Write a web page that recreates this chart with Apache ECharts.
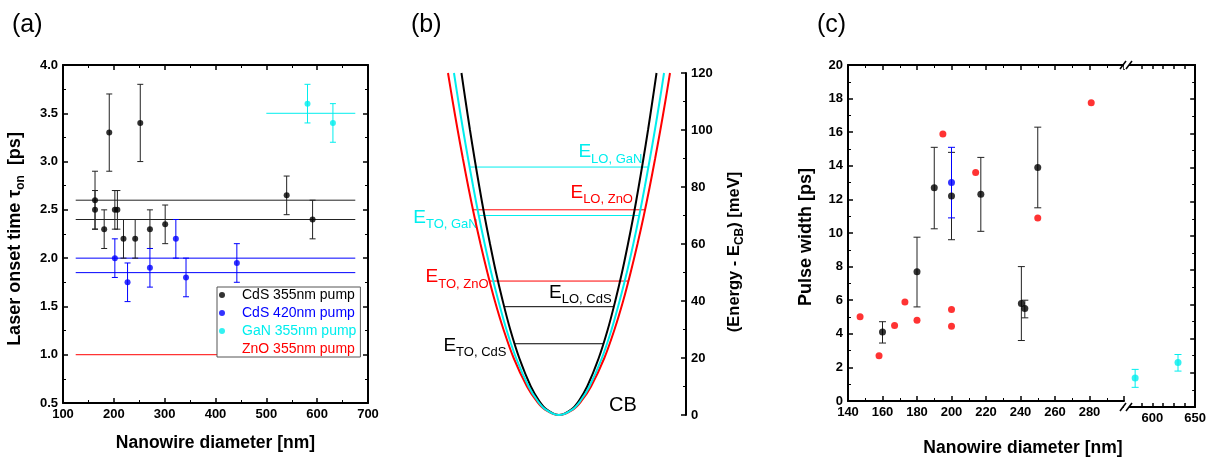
<!DOCTYPE html>
<html>
<head>
<meta charset="utf-8">
<script src="https://cdn.jsdelivr.net/npm/echarts@6/dist/echarts.min.js"></script>
<style>
  html, body { margin: 0; padding: 0; background: #fff; }
  #chart { width: 1209px; height: 457px; }
</style>
</head>
<body>
<div id="chart"></div>
<script>
/// (a) laser onset time vs nanowire diameter: [diameter nm, tau ps, err low, err high]
const onsetCdS355 = [
    [163, 2.6, 2.3, 2.9], [163, 2.5, 2.3, 2.7], [181, 2.3, 2.1, 2.5], [191, 3.3, 2.9, 3.7],
    [202, 2.5, 2.3, 2.7], [207, 2.5, 2.3, 2.7], [219, 2.2, 2.0, 2.4], [242, 2.2, 2.0, 2.4],
    [252, 3.4, 3.0, 3.8], [271, 2.3, 2.1, 2.5], [301, 2.35, 2.15, 2.55], [540, 2.65, 2.45, 2.85],
    [591, 2.4, 2.2, 2.6]
];
const onsetCdS420 = [
    [202, 2.0, 1.8, 2.2], [227, 1.75, 1.55, 1.95], [271, 1.9, 1.7, 2.1],
    [322, 2.2, 2.0, 2.4], [342, 1.8, 1.6, 2.0], [442, 1.95, 1.75, 2.15]
];
const onsetGaN355 = [[581, 3.6, 3.4, 3.8], [631, 3.4, 3.2, 3.6]];
const cds355Levels = [2.6, 2.4];
const cds420Levels = [2.0, 1.85];
const ganLevel = 3.5;
const znoLevel = 1.0;
const levelSpan = [125, 675];
const ganSpan = [500, 675];

/// (b) conduction band parabolas: energy [meV] vs half width k (arb.)
const bandE = [0, 2, 5, 10, 20, 30, 40, 50, 60, 70, 80, 90, 100, 110, 120];
const bandK_CdS = [0, 0.099, 0.157, 0.222, 0.313, 0.384, 0.443, 0.496, 0.543, 0.587, 0.627, 0.665, 0.701, 0.735, 0.768];
const bandK_GaN = [0, 0.107, 0.169, 0.239, 0.338, 0.414, 0.477, 0.534, 0.585, 0.632, 0.675, 0.716, 0.755, 0.792, 0.827];
const bandK_ZnO = [0, 0.113, 0.178, 0.252, 0.357, 0.437, 0.505, 0.564, 0.618, 0.668, 0.714, 0.757, 0.798, 0.837, 0.874];
const phononNames = ['LO, GaN', 'LO, ZnO', 'TO, GaN', 'TO, ZnO', 'LO, CdS', 'TO, CdS'];
const phononMat = ['GaN', 'ZnO', 'GaN', 'ZnO', 'CdS', 'CdS'];
const phononE = [87, 72, 70, 47, 38, 25];
const phononK = [0.704, 0.677, 0.632, 0.547, 0.43, 0.351];

/// (c) pulse width vs nanowire diameter
const pulseCdS355 = [
    [160, 4.1, 3.45, 4.72], [180, 7.7, 5.6, 9.75], [190, 12.7, 10.25, 15.1], [200, 12.2, 9.6, 14.8],
    [217, 12.3, 10.1, 14.5], [250, 13.9, 11.5, 16.3], [240.5, 5.8, 3.6, 8.0], [242.5, 5.5, 4.95, 6.0]
];
const pulseCdS420 = [[200, 13.0, 10.9, 15.1]];
const pulseZnO = [
    [147, 5.02], [158, 2.7], [167, 4.5], [173, 5.9], [180, 4.8], [200, 5.45],
    [200, 4.45], [195, 15.9], [214, 13.6], [250, 10.9], [281, 17.75]
];
const pulseGaN = [[580, 1.7, 1.15, 2.2], [630, 2.6, 2.1, 3.07]];
const c2Labels = [600, 650];
const c2Ticks = [587.5, 600, 612.5, 625, 637.5, 650];

const FONT = 'Liberation Sans, Arial, sans-serif';
const C_BLACK = '#000000', C_BLUE = '#0000ff', C_CYAN = '#00eeee', C_RED = '#ff0000';
const matColor = { CdS: C_BLACK, GaN: C_CYAN, ZnO: C_RED };

// label placement for phonon levels (which end, distance, vertical shift)
const phononPlace = [
    { end: 1, dist: 6, dy: -13 },
    { end: 1, dist: 12, dy: -15 },
    { end: 0, dist: 1, dy: 4 },
    { end: 0, dist: 1, dy: -2 },
    { end: 1, dist: 2, dy: -12 },
    { end: 0, dist: 8, dy: 4 }
];

function frameAxis(o) {
    return Object.assign({
        type: 'value',
        axisLine: { show: true, onZero: false, lineStyle: { color: '#000', width: 2 } },
        axisTick: { show: true, inside: true, length: 5, lineStyle: { color: '#000', width: 1.5 } },
        minorTick: { show: true, splitNumber: 2, length: 3, lineStyle: { color: '#000', width: 1 } },
        splitLine: { show: false },
        axisLabel: { show: o.labels !== false, color: '#000', fontFamily: FONT, fontWeight: 'bold', fontSize: 13, margin: 5 }
    }, o);
}

function errorBars(data, color, xi, yi, cap) {
    return {
        type: 'custom', xAxisIndex: xi, yAxisIndex: yi, data: data, z: 3, silent: true,
        encode: { x: 0, y: [2, 3] },
        renderItem: function (params, api) {
            const x = api.value(0);
            const hi = api.coord([x, api.value(3)]);
            const lo = api.coord([x, api.value(2)]);
            const st = { stroke: color, lineWidth: 1 };
            return {
                type: 'group', children: [
                    { type: 'line', shape: { x1: hi[0], y1: hi[1], x2: lo[0], y2: lo[1] }, style: st },
                    { type: 'line', shape: { x1: hi[0] - cap, y1: hi[1], x2: hi[0] + cap, y2: hi[1] }, style: st },
                    { type: 'line', shape: { x1: lo[0] - cap, y1: lo[1], x2: lo[0] + cap, y2: lo[1] }, style: st }
                ]
            };
        }
    };
}

function dots(name, data, color, xi, yi, size) {
    return {
        type: 'scatter', name: name, xAxisIndex: xi, yAxisIndex: yi, z: 4, silent: true,
        symbol: 'circle', symbolSize: size, itemStyle: { color: color },
        encode: { x: 0, y: 1 }, data: data
    };
}

function hline(name, y, span, color, width) {
    return {
        type: 'line', name: name, xAxisIndex: 0, yAxisIndex: 0, symbol: 'none', silent: true, z: 2,
        lineStyle: { color: color, width: width },
        data: [[span[0], y], [span[1], y]]
    };
}

function band(kArr, color, z) {
    const left = bandE.map((e, i) => [-kArr[i], e]).reverse();
    const right = bandE.slice(1).map((e, i) => [kArr[i + 1], e]);
    return {
        type: 'line', xAxisIndex: 2, yAxisIndex: 2, symbol: 'none', silent: true, z: z,
        smooth: 0.35, lineStyle: { color: color, width: 2 }, data: left.concat(right)
    };
}

const subRich = (big, small) => ({
    e: { fontFamily: FONT, fontSize: big, verticalAlign: 'bottom', padding: [0, 0, 4, 0] },
    s: { fontFamily: FONT, fontSize: small, verticalAlign: 'bottom' }
});

function phononLine(i) {
    const c = matColor[phononMat[i]];
    const k = phononK[i], e = phononE[i], p = phononPlace[i];
    const pts = [[-k, e], [k, e]].map((v, j) => j === p.end ? {
        value: v,
        label: {
            show: true, position: 'left', distance: p.dist, offset: [0, p.dy], color: c,
            formatter: '{e|E}{s|' + phononNames[i] + '}', rich: subRich(19, 13)
        }
    } : { value: v });
    return {
        type: 'line', xAxisIndex: 2, yAxisIndex: 2, symbol: 'circle', symbolSize: 0, silent: true, z: 2,
        showSymbol: true, lineStyle: { color: c, width: 1 }, itemStyle: { color: c }, data: pts
    };
}

const chart = echarts.init(document.getElementById('chart'), null, { renderer: 'canvas' });

const series = [];
cds355Levels.forEach((y, i) => series.push(hline('cds355-level-' + i, y, levelSpan, '#222', 1)));
cds420Levels.forEach((y, i) => series.push(hline('cds420-level-' + i, y, levelSpan, C_BLUE, 1)));
series.push(hline('gan-level', ganLevel, ganSpan, C_CYAN, 1));
series.push(hline('ZnO 355nm pump', znoLevel, levelSpan, C_RED, 1));
series.push(errorBars(onsetCdS355, '#222', 0, 0, 3));
series.push(errorBars(onsetCdS420, C_BLUE, 0, 0, 3));
series.push(errorBars(onsetGaN355, C_CYAN, 0, 0, 3));
series.push(dots('CdS 355nm pump', onsetCdS355, C_BLACK, 0, 0, 6));
series.push(dots('CdS 420nm pump', onsetCdS420, C_BLUE, 0, 0, 6));
series.push(dots('GaN 355nm pump', onsetGaN355, C_CYAN, 0, 0, 6));

series.push(band(bandK_CdS, C_BLACK, 3));
series.push(band(bandK_ZnO, C_RED, 4));
series.push(band(bandK_GaN, C_CYAN, 5));
phononNames.forEach((n, i) => series.push(phononLine(i)));

series.push(errorBars(pulseCdS355, '#222', 3, 3, 3.5));
series.push(errorBars(pulseCdS420, C_BLUE, 3, 3, 3.5));
series.push(errorBars(pulseGaN, C_CYAN, 5, 4, 3.5));
series.push(dots('pw CdS 355', pulseCdS355, C_BLACK, 3, 3, 7));
series.push(dots('pw CdS 420', pulseCdS420, C_BLUE, 3, 3, 7));
series.push(dots('pw ZnO', pulseZnO, C_RED, 3, 3, 7));
series.push(dots('pw GaN', pulseGaN, C_CYAN, 5, 4, 7));

const titleStyle = {
    color: '#000', fontFamily: FONT, fontWeight: 'bold', fontSize: 17.5
};
const c2Tick = { show: true, inside: true, length: 4, customValues: c2Ticks, lineStyle: { color: '#000', width: 1.5 } };

const option = {
    animation: false,
    backgroundColor: '#fff',
    textStyle: { fontFamily: FONT },
    grid: [
        { left: 63, top: 65, width: 305, height: 342 },
        { left: 432, top: 73, width: 254, height: 342 },
        { left: 848, top: 65, width: 276, height: 342 },
        { left: 1124, top: 65, width: 74, height: 342 }
    ],
    xAxis: [
        frameAxis({
            gridIndex: 0, position: 'bottom', min: 100, max: 700, interval: 100,
            name: 'Nanowire diameter [nm]', nameLocation: 'middle', nameGap: 31, nameTextStyle: titleStyle
        }),
        frameAxis({ gridIndex: 0, position: 'top', min: 100, max: 700, interval: 100, labels: false }),
        { type: 'value', gridIndex: 1, min: -1, max: 1, show: false },
        frameAxis({
            gridIndex: 2, position: 'bottom', min: 140, max: 300, interval: 20,
            name: 'Nanowire diameter [nm]', nameLocation: 'end', nameGap: 0,
            nameTextStyle: Object.assign({}, titleStyle, { align: 'center', verticalAlign: 'top', padding: [38, 202, 0, 0] })
        }),
        frameAxis({ gridIndex: 2, position: 'top', min: 140, max: 300, interval: 20, labels: false }),
        frameAxis({
            gridIndex: 3, position: 'bottom', min: 567, max: 650,
            minorTick: { show: false }, axisTick: c2Tick,
            axisLabel: { color: '#000', fontFamily: FONT, fontWeight: 'bold', fontSize: 13, margin: 5, customValues: c2Labels }
        }),
        frameAxis({
            gridIndex: 3, position: 'top', min: 567, max: 650, labels: false,
            minorTick: { show: false }, axisTick: c2Tick
        })
    ],
    yAxis: [
        frameAxis({
            gridIndex: 0, position: 'left', min: 0.5, max: 4.0, interval: 0.5,
            name: '{n|Laser onset time τ}{s|on}{n|  [ps]}', nameLocation: 'middle', nameGap: 36,
            nameTextStyle: {
                padding: [0, 10, 0, 0],
                rich: {
                    n: Object.assign({}, titleStyle, { fontSize: 18, verticalAlign: 'bottom', padding: [0, 0, 3, 0] }),
                    s: Object.assign({}, titleStyle, { fontSize: 12, verticalAlign: 'bottom' })
                }
            }
        }),
        frameAxis({ gridIndex: 0, position: 'right', min: 0.5, max: 4.0, interval: 0.5, labels: false }),
        frameAxis({
            gridIndex: 1, position: 'right', min: 0, max: 120, interval: 20,
            name: '{n|(Energy - E}{s|CB}{n|) [meV]}', nameLocation: 'middle', nameGap: 40,
            nameTextStyle: {
                padding: [0, 16, 0, 0],
                rich: {
                    n: Object.assign({}, titleStyle, { fontSize: 16.5, verticalAlign: 'bottom', padding: [0, 0, 3, 0] }),
                    s: Object.assign({}, titleStyle, { fontSize: 12, verticalAlign: 'bottom' })
                }
            }
        }),
        frameAxis({
            gridIndex: 2, position: 'left', min: 0, max: 20, interval: 2,
            name: 'Pulse width [ps]', nameLocation: 'middle', nameGap: 33,
            nameTextStyle: Object.assign({}, titleStyle, { fontSize: 18, padding: [0, 8, 0, 0] })
        }),
        frameAxis({ gridIndex: 3, position: 'right', min: 0, max: 20, interval: 2, labels: false })
    ],
    legend: {
        show: true, orient: 'vertical', left: 217, top: 287,
        padding: [0, 4, 0, 2], itemGap: 2, itemWidth: 6, itemHeight: 6,
        borderColor: '#555', borderWidth: 1, backgroundColor: '#fff',
        selectedMode: false, icon: 'circle',
        textStyle: { fontFamily: FONT, fontSize: 14, lineHeight: 16, padding: [0, 0, 0, 12] },
        data: [
            { name: 'CdS 355nm pump', textStyle: { color: C_BLACK } },
            { name: 'CdS 420nm pump', textStyle: { color: C_BLUE } },
            { name: 'GaN 355nm pump', textStyle: { color: C_CYAN } },
            { name: 'ZnO 355nm pump', textStyle: { color: C_RED }, itemStyle: { opacity: 0 } }
        ]
    },
    graphic: [
        { type: 'text', left: 12, top: 13, style: { text: '(a)', font: '25px ' + FONT, fill: '#000' } },
        { type: 'text', left: 411, top: 13, style: { text: '(b)', font: '25px ' + FONT, fill: '#000' } },
        { type: 'text', left: 817, top: 13, style: { text: '(c)', font: '25px ' + FONT, fill: '#000' } },
        { type: 'text', left: 609, top: 395, style: { text: 'CB', font: '20px ' + FONT, fill: '#000' } },
        // axis break marks
        { type: 'rect', shape: { x: 1124, y: 61, width: 5, height: 8 }, style: { fill: '#fff' }, z: 100 },
        { type: 'line', shape: { x1: 1120, y1: 69, x2: 1126, y2: 61 }, style: { stroke: '#000', lineWidth: 1.5 }, z: 101 },
        { type: 'line', shape: { x1: 1126, y1: 69, x2: 1132, y2: 61 }, style: { stroke: '#000', lineWidth: 1.5 }, z: 101 },
        { type: 'rect', shape: { x: 1124, y: 403, width: 5, height: 8 }, style: { fill: '#fff' }, z: 100 },
        { type: 'line', shape: { x1: 1120, y1: 411, x2: 1126, y2: 403 }, style: { stroke: '#000', lineWidth: 1.5 }, z: 101 },
        { type: 'line', shape: { x1: 1126, y1: 411, x2: 1132, y2: 403 }, style: { stroke: '#000', lineWidth: 1.5 }, z: 101 }
    ],
    series: series
};
option.xAxis[3].axisLabel.formatter = v => (v === 300 ? '' : v);
option.yAxis[0].axisLabel.formatter = v => v.toFixed(1);
chart.setOption(option);
</script>
</body>
</html>
